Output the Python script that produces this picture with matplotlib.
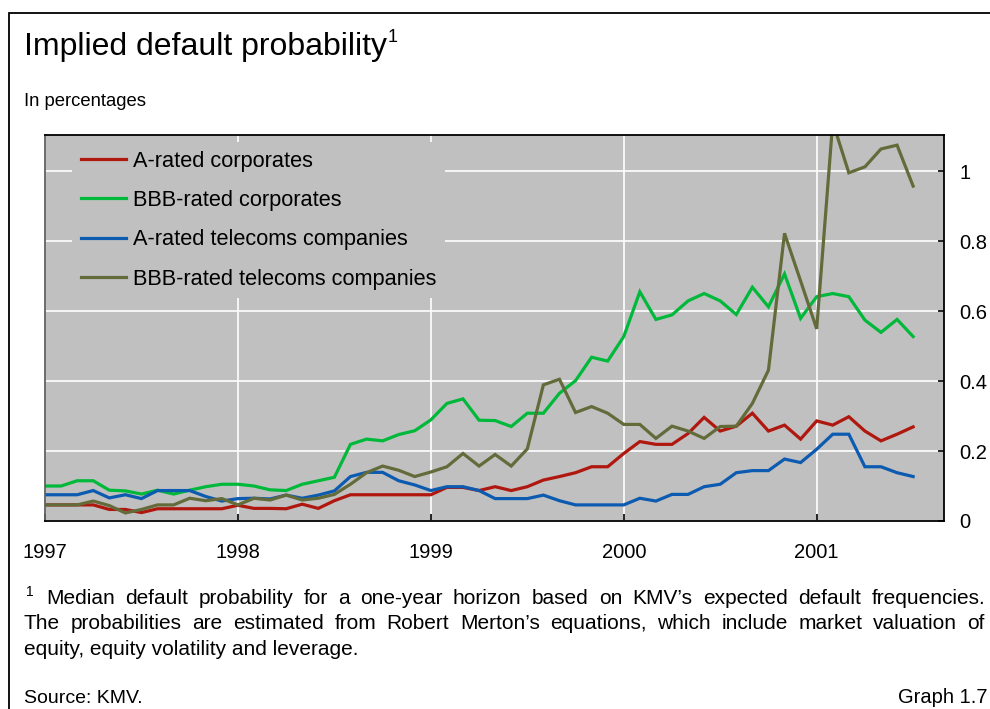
import matplotlib
matplotlib.use("Agg")
import matplotlib.pyplot as plt
from matplotlib.patches import Rectangle
import numpy as np

plt.rcParams['font.family'] = ['Liberation Sans', 'DejaVu Sans']

# monthly observations, Jan 1997 .. Jul 2001 (per cent)
a_corp = [0.046, 0.046, 0.046, 0.046, 0.033, 0.033, 0.024, 0.035, 0.035, 0.035, 0.035, 0.035,
          0.045, 0.036, 0.036, 0.035, 0.048, 0.036, 0.058, 0.075, 0.075, 0.075, 0.075, 0.075,
          0.075, 0.096, 0.096, 0.087, 0.098, 0.087, 0.098, 0.117, 0.127, 0.138, 0.155, 0.155,
          0.193, 0.227, 0.219, 0.219, 0.250, 0.296, 0.257, 0.271, 0.308, 0.257, 0.274, 0.234,
          0.286, 0.274, 0.298, 0.257, 0.229, 0.248, 0.269]
bbb_corp = [0.100, 0.100, 0.115, 0.115, 0.088, 0.086, 0.077, 0.088, 0.077, 0.088, 0.098, 0.105,
            0.105, 0.100, 0.089, 0.087, 0.105, 0.115, 0.125, 0.219, 0.234, 0.229, 0.247, 0.258,
            0.289, 0.336, 0.349, 0.288, 0.287, 0.270, 0.308, 0.308, 0.365, 0.401, 0.468, 0.457,
            0.527, 0.655, 0.576, 0.589, 0.629, 0.650, 0.629, 0.590, 0.668, 0.612, 0.706, 0.579,
            0.641, 0.650, 0.641, 0.574, 0.539, 0.576, 0.527]
a_tel = [0.075, 0.075, 0.075, 0.087, 0.066, 0.075, 0.064, 0.087, 0.087, 0.087, 0.070, 0.057,
         0.064, 0.065, 0.063, 0.074, 0.065, 0.074, 0.086, 0.127, 0.139, 0.139, 0.115, 0.103,
         0.087, 0.098, 0.098, 0.087, 0.064, 0.064, 0.064, 0.074, 0.058, 0.046, 0.046, 0.046,
         0.046, 0.065, 0.057, 0.076, 0.076, 0.098, 0.105, 0.138, 0.144, 0.144, 0.177, 0.167,
         0.205, 0.248, 0.248, 0.155, 0.155, 0.138, 0.127]
bbb_tel = [0.046, 0.046, 0.046, 0.057, 0.044, 0.023, 0.033, 0.046, 0.046, 0.065, 0.058, 0.064,
           0.046, 0.065, 0.060, 0.074, 0.060, 0.065, 0.076, 0.105, 0.138, 0.157, 0.145, 0.127,
           0.140, 0.155, 0.193, 0.157, 0.190, 0.157, 0.206, 0.389, 0.405, 0.310, 0.327, 0.308,
           0.276, 0.276, 0.236, 0.271, 0.257, 0.236, 0.270, 0.271, 0.336, 0.431, 0.822, 0.686,
           0.549, 1.140, 0.995, 1.012, 1.063, 1.074, 0.957]

series_names = ['A-rated corporates', 'BBB-rated corporates',
                'A-rated telecoms companies', 'BBB-rated telecoms companies']
series_colors = ['#b0170f', '#00b93a', '#0d5bb0', '#646b3b']
years = [1997, 1998, 1999, 2000, 2001]
ytick_vals = [0, 0.2, 0.4, 0.6, 0.8, 1.0]
ytick_labels = ['0', '0.2', '0.4', '0.6', '0.8', '1']

footnote = ["Median default probability for a one-year horizon based on KMV\u2019s expected default frequencies.",
            "The probabilities are estimated from Robert Merton\u2019s equations, which include market valuation of",
            "equity, equity volatility and leverage."]

W, H = 990, 709
fig = plt.figure(figsize=(W / 100, H / 100), dpi=100)
fig.patch.set_facecolor('white')

# outer frame (runs off the right and bottom edges)
fig.patches.append(Rectangle((9 / W, -0.1), 1.2, 1 - 13 / H + 0.1, transform=fig.transFigure,
                             fill=False, edgecolor='black', linewidth=1.3))

ax = fig.add_axes([45 / W, 1 - 521 / H, (944 - 45) / W, (521 - 135) / H])
ax.set_facecolor('#c0c0c0')

x = 1997 + np.arange(len(a_corp)) / 12
for vals, name, col in zip([a_corp, bbb_corp, a_tel, bbb_tel], series_names, series_colors):
    ax.plot(x, vals, color=col, lw=2.3, label=name, solid_joinstyle='miter')

ax.set_xlim(1997, 2001.66)
ax.set_ylim(0, 1.103)
ax.set_xticks(years)
ax.set_xticklabels([str(y) for y in years])
ax.set_yticks(ytick_vals)
ax.set_yticklabels(ytick_labels)
ax.yaxis.tick_right()
ax.tick_params(axis='x', direction='in', length=5, width=1.2, pad=16, labelsize=14.5)
ax.tick_params(axis='y', direction='in', length=4, width=1.2, pad=11, labelsize=14.5)
ax.grid(True, color='white', lw=1.2)
ax.set_axisbelow(True)
for side in ['top', 'bottom', 'right']:
    ax.spines[side].set_color('black')
    ax.spines[side].set_linewidth(1.3)
ax.spines['left'].set_color('#606060')
ax.spines['left'].set_linewidth(1.3)

leg = ax.legend(loc='upper left', bbox_to_anchor=(0.030, 0.982), borderaxespad=0,
                fontsize=15.7, frameon=True, facecolor='#c0c0c0', edgecolor='none',
                framealpha=1, fancybox=False, borderpad=0.4, handlelength=2.1,
                handletextpad=0.28, labelspacing=0.84)

# titles
r = fig.canvas.get_renderer()
t = fig.text(24 / W, 1 - 55 / H, 'Implied default probability', fontsize=23, va='baseline')
tw = t.get_window_extent(r)
fig.text(tw.x1 / W + 0.001, 1 - 42 / H, '1', fontsize=13, va='baseline')
fig.text(24 / W, 1 - 106 / H, 'In percentages', fontsize=13.3, va='baseline')


def justify(line, x0, x1, y, size):
    words = line.split()
    items = [fig.text(0, 1 - y / H, w, fontsize=size, va='baseline') for w in words]
    widths = [it.get_window_extent(r).width for it in items]
    gap = (x1 - x0 - sum(widths)) / (len(words) - 1)
    pos = x0
    for it, w in zip(items, widths):
        it.set_x(pos / W)
        pos += w + gap


fig.text(26 / W, 1 - 596 / H, '1', fontsize=10, va='baseline')
justify(footnote[0], 46, 985, 604, 15)
justify(footnote[1], 24, 985, 629, 15)
fig.text(24 / W, 1 - 655 / H, footnote[2], fontsize=15, va='baseline')
fig.text(24 / W, 1 - 703 / H, 'Source: KMV.', fontsize=14, va='baseline')
fig.text(988 / W, 1 - 703 / H, 'Graph 1.7', fontsize=14.5, va='baseline', ha='right')

fig.savefig('out.png', dpi=100, facecolor='white')
